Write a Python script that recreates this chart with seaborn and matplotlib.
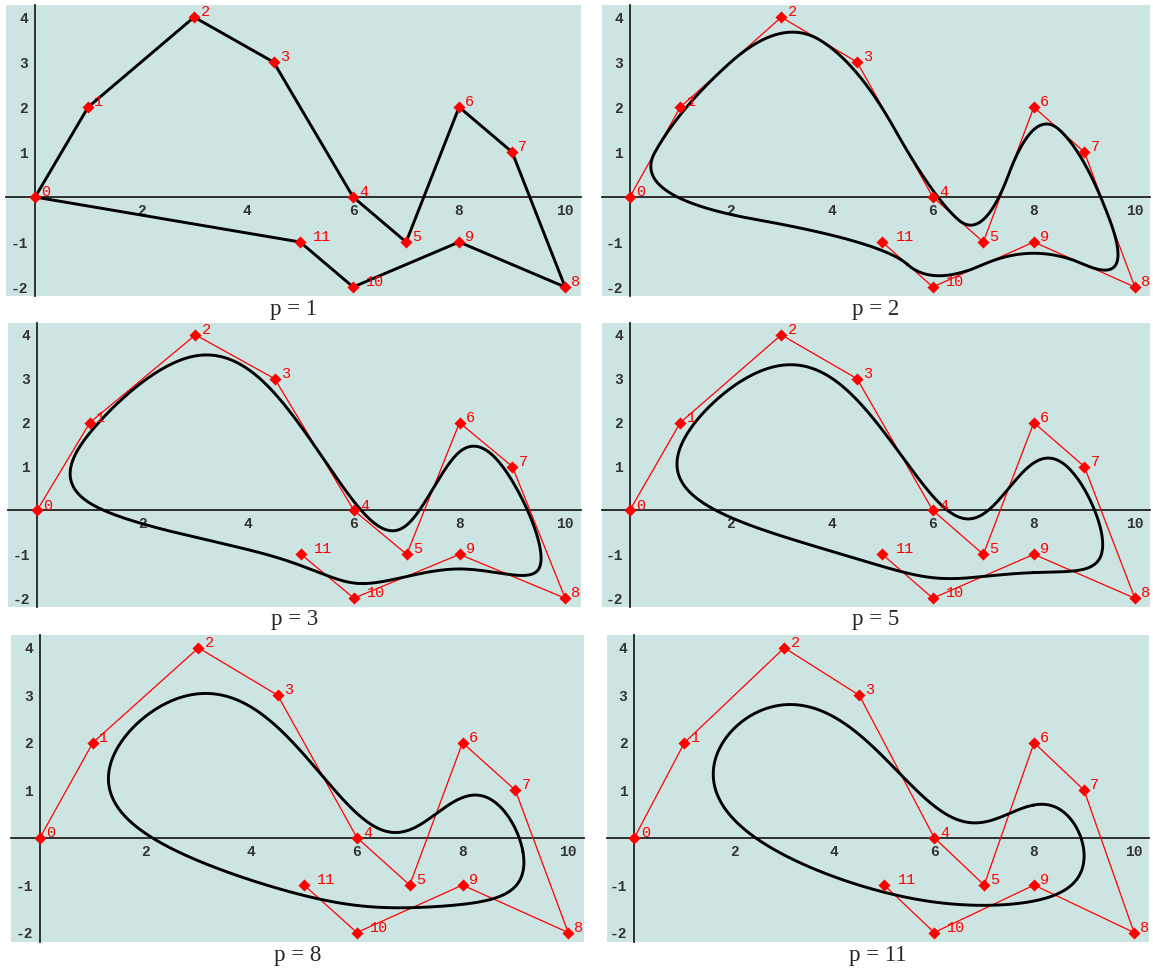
import numpy as np
import matplotlib
matplotlib.use("Agg")
import matplotlib.pyplot as plt
import seaborn as sns
from matplotlib.ticker import MultipleLocator, FixedLocator

# control points (polygon drawn open, curve is closed)
ctrl_x = [0, 1, 3, 4.5, 6, 7, 8, 9, 10, 8, 6, 5]
ctrl_y = [0, 2, 4, 3, 0, -1, 2, 1, -2, -1, -2, -1]
point_labels = [str(i) for i in range(12)]
degrees = [1, 2, 3, 5, 8, 11]
captions = ["p = 1", "p = 2", "p = 3", "p = 5", "p = 8", "p = 11"]
xtick_vals = [2, 4, 6, 8, 10]
ytick_vals = [-2, -1, 1, 2, 3, 4]

W, H = 1153, 974
# panel boxes in pixels: left, top, right, bottom
boxes = [(6, 5, 581, 296), (602, 5, 1150, 296),
         (8, 323, 581, 607), (602, 323, 1150, 607),
         (11, 635, 584, 942), (607, 635, 1149, 942)]
caption_y = [310, 310, 620, 620, 955, 955]


def cardinal_bspline(x, p):
    # uniform B-spline basis of degree p, support [0, p+1]
    if p == 0:
        return ((x >= 0) & (x < 1)).astype(float)
    return (x * cardinal_bspline(x, p - 1) + (p + 1 - x) * cardinal_bspline(x - 1, p - 1)) / p


def closed_bspline(px, py, p, samples=1500):
    n = len(px)
    t = np.linspace(0, n, samples, endpoint=False)
    cx = np.zeros_like(t)
    cy = np.zeros_like(t)
    for i in range(n):
        w = cardinal_bspline((t - i) % n, p)
        cx += w * px[i]
        cy += w * py[i]
    return np.append(cx, cx[0]), np.append(cy, cy[0])


sns.set_style("white")
fig = plt.figure(figsize=(W / 100, H / 100), dpi=100)
fig.patch.set_facecolor("white")

for k, p in enumerate(degrees):
    l, t, r, b = boxes[k]
    ax = fig.add_axes([l / W, 1 - b / H, (r - l) / W, (b - t) / H])
    ax.set_facecolor("#cce5e3")

    # control polygon (open)
    sns.lineplot(x=ctrl_x, y=ctrl_y, sort=False, estimator=None,
                 color="red", linewidth=0.9, ax=ax, zorder=2)
    # closed spline curve
    cx, cy = closed_bspline(ctrl_x, ctrl_y, p)
    sns.lineplot(x=cx, y=cy, sort=False, estimator=None,
                 color="black", linewidth=2.1, ax=ax, zorder=3)
    # control points
    sns.scatterplot(x=ctrl_x, y=ctrl_y, marker="D", s=38, color="red",
                    edgecolor="red", linewidth=0, ax=ax, zorder=4)
    for xi, yi, lab in zip(ctrl_x, ctrl_y, point_labels):
        dx = 9.5 if len(lab) > 1 else 4.5
        ax.annotate(lab, (xi, yi), xytext=(dx, 3.5), textcoords="offset points",
                    ha="left", va="center", color="red", fontsize=11,
                    family="Liberation Mono", zorder=5)

    ax.set_xlim(-0.55, 10.3)
    ax.set_ylim(-2.2, 4.27)

    # axes through the origin
    for s in ["top", "right"]:
        ax.spines[s].set_visible(False)
    ax.spines["left"].set_position(("data", 0))
    ax.spines["bottom"].set_position(("data", 0))
    for s in ["left", "bottom"]:
        ax.spines[s].set_color("#222222")
        ax.spines[s].set_linewidth(1.3)
        ax.spines[s].set_zorder(1)

    ax.xaxis.set_major_locator(FixedLocator(xtick_vals))
    ax.xaxis.set_minor_locator(MultipleLocator(0.5))
    ax.yaxis.set_major_locator(FixedLocator(ytick_vals))
    ax.yaxis.set_minor_locator(MultipleLocator(0.2))
    ax.tick_params(which="both", direction="in", color="#222222", width=1.1)
    ax.tick_params(which="major", length=4.5, pad=5)
    ax.tick_params(which="minor", length=2.5)
    ax.set_xticklabels([str(v) for v in xtick_vals])
    ax.set_yticklabels([str(v) for v in ytick_vals])
    for lbl in ax.get_xticklabels() + ax.get_yticklabels():
        lbl.set_family("Liberation Mono")
        lbl.set_fontsize(10.5)
        lbl.set_fontweight("bold")
        lbl.set_color("#333333")
    ax.set_xlabel("")
    ax.set_ylabel("")

    fig.text((l + r) / 2 / W, 1 - caption_y[k] / H, captions[k],
             ha="center", va="center", fontsize=16.5, family="Liberation Serif")

fig.savefig("out.png", dpi=100, facecolor="white")
